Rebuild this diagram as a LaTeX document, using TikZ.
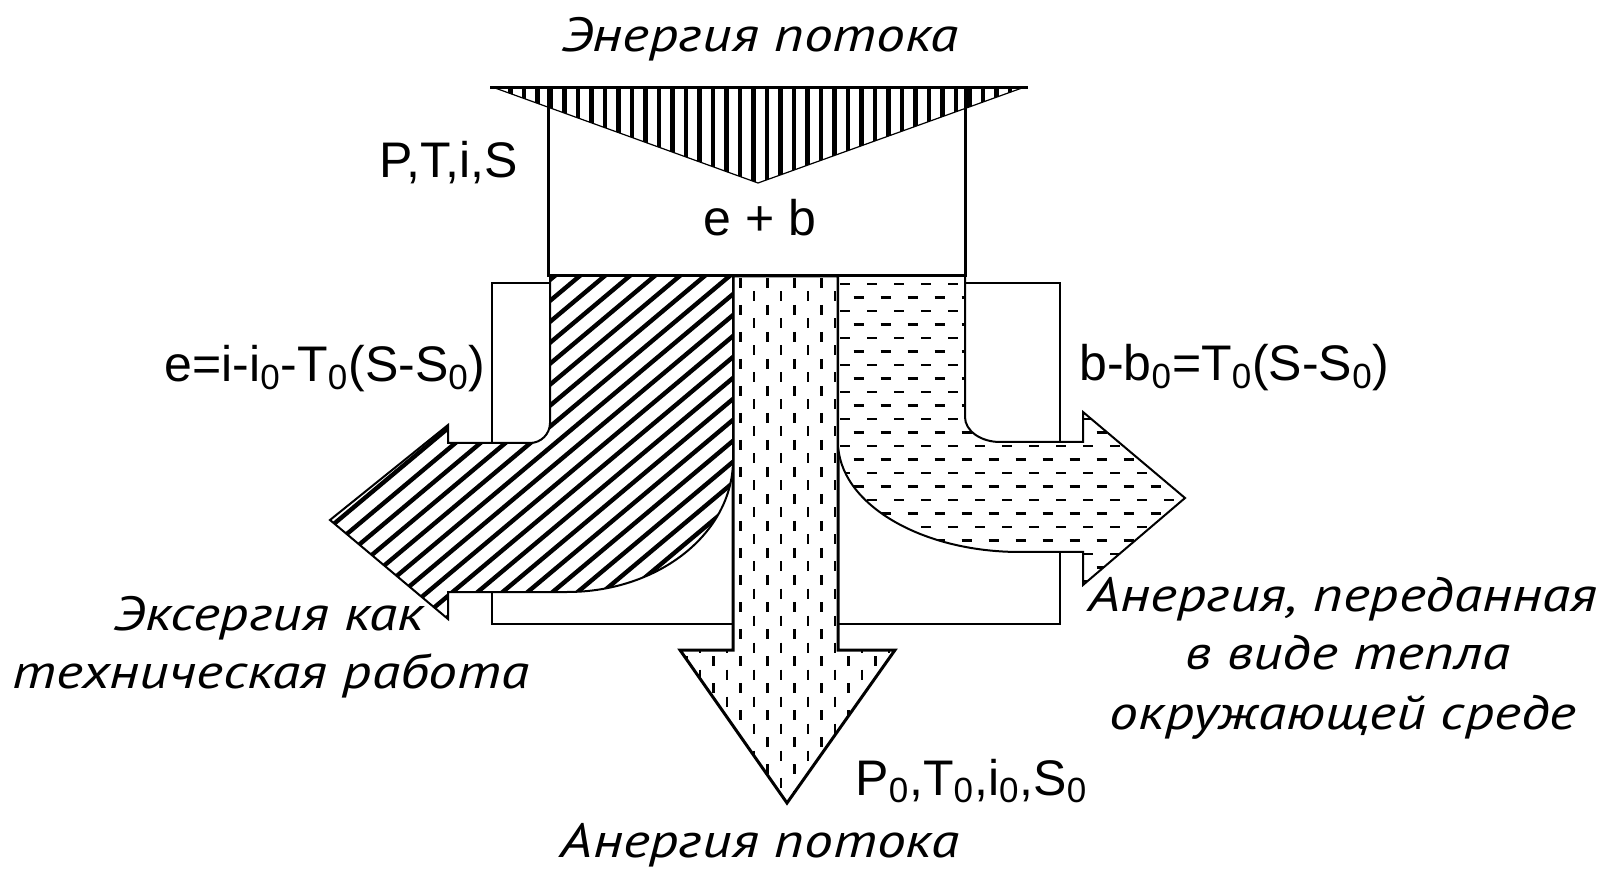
\documentclass[tikz,border=0pt]{standalone}
\usepackage{fontspec}
\setmainfont{Liberation Sans}
\newfontfamily\rufont{PT Sans}
\usepackage{graphicx}
\newcommand{\rutxt}[1]{\scalebox{1.2}[1]{#1}}
\begin{document}
\begin{tikzpicture}[x=0.5pt,y=-0.5pt,
  rutext/.style={font=\rufont\itshape\fontsize{24}{28}\selectfont, inner sep=0pt},
  lat/.style={font=\fontsize{25}{30}\selectfont, inner sep=0pt},
  thick outline/.style={line width=1.5pt, line join=miter},
  thin outline/.style={line width=1pt, line join=miter},
  framerect/.style={line width=0.8pt},
  hatchline/.style={line width=2.2pt},
  dashrow/.style={line width=1.3pt, dash pattern=on 5pt off 8.5pt}]
\useasboundingbox[fill=white] (0,0) rectangle (1607,871);

\def\centralpath{(733,276) -- (733,650) -- (680,650) -- (787,803) -- (895,650) -- (838,650) -- (838,276) -- cycle}
\def\leftpath{(550,276) -- (733,276) -- (733,460) .. controls (733,533) and (659,592) .. (567,592) -- (448,592) -- (448,619) -- (330,520) -- (448,425) -- (448,443) -- (530,443) .. controls (541,443) and (550,434) .. (550,423) -- cycle}
\def\rightpath{(838,276) -- (965,276) -- (965,417) .. controls (965,431) and (981,442) .. (1000,442) -- (1083,442) -- (1083,412) -- (1185,498) -- (1083,585) -- (1083,552) -- (1020,552) .. controls (920,552) and (838,503) .. (838,442) -- cycle}
\def\tripath{(495,88) -- (1022,88) -- (758,183) -- cycle}

% thin frame behind the arrows
\draw[framerect] (492,283) rectangle (1060,624);

% central arrow
\fill[white] \centralpath;
\begin{scope}
  \clip \centralpath;
  \foreach \k in {-4,-2,...,12}
    \draw[dashrow] ({740.5+13.5*\k},278) -- ++(0,540);
  \foreach \k in {-3,-1,...,11}
    \draw[dashrow, dash phase=6.75pt] ({740.5+13.5*\k},278) -- ++(0,540);
\end{scope}
\draw[thick outline] \centralpath;

% left arrow
\fill[white] \leftpath;
\begin{scope}
  \clip \leftpath;
  \foreach \k in {-125,-100,...,525}
    \draw[hatchline] (\k,720) -- ++(600,-503);
\end{scope}
\draw[thin outline] \leftpath;

% right arrow
\fill[white] \rightpath;
\begin{scope}
  \clip \rightpath;
  \foreach \k in {0,2,...,24}
    \draw[dashrow] (840,{284+13.5*\k}) -- ++(350,0);
  \foreach \k in {1,3,...,23}
    \draw[dashrow, dash phase=6.75pt] (840,{284+13.5*\k}) -- ++(350,0);
\end{scope}
\draw[thin outline] \rightpath;

% upper box with incoming flow
\draw[thick outline, fill=white] (548,88) rectangle (965,276);
\begin{scope}
  \clip \tripath;
  \foreach \k in {0,...,40}
    \draw[hatchline] ({497+13.5*\k},86) -- ++(0,110);
\end{scope}
\draw[line width=0.6pt] \tripath;
\draw[thick outline] (490,88) -- (1028,88);

% texts
\node[rutext, anchor=base] (top) at (760,52) {\rutxt{Энергия потока}};
\node[lat, anchor=base east] (pts) at (518,178) {P,T,i,S};
\node[lat, anchor=base] (eb) at (760,236) {e + b};
\node[lat, anchor=base west] (ef) at (164,382) {e=i-i\textsubscript{0}-T\textsubscript{0}(S-S\textsubscript{0})};
\node[lat, anchor=base west] (bf) at (1079,381) {b-b\textsubscript{0}=T\textsubscript{0}(S-S\textsubscript{0})};
\node[rutext, anchor=base west] (ex1) at (113,631) {\rutxt{Эксергия как}};
\node[rutext, anchor=base west] (ex2) at (12,688) {\rutxt{техническая работа}};
\node[rutext, anchor=base] (an1) at (1343,611) {\rutxt{Анергия, переданная}};
\node[rutext, anchor=base] (an2) at (1348,669) {\rutxt{в виде тепла}};
\node[rutext, anchor=base] (an3) at (1343,729) {\rutxt{окружающей среде}};
\node[lat, anchor=base west] (p0) at (855,795) {P\textsubscript{0},T\textsubscript{0},i\textsubscript{0},S\textsubscript{0}};
\node[rutext, anchor=base] (bot) at (760,857) {\rutxt{Анергия потока}};
\end{tikzpicture}
\end{document}
